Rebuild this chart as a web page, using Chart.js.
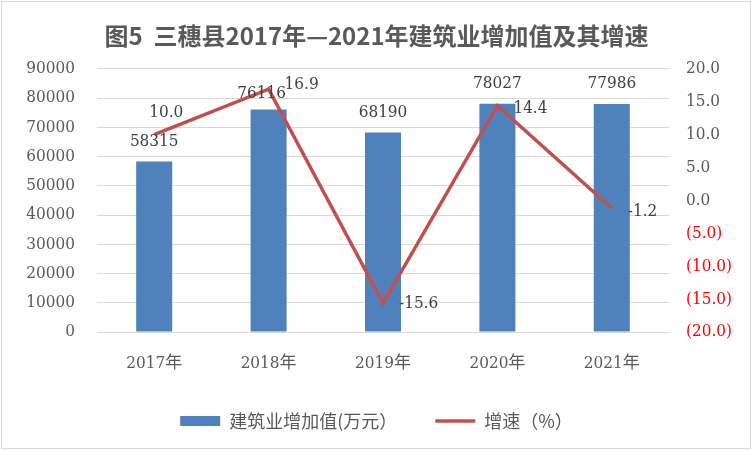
<!DOCTYPE html>
<html>
<head>
<meta charset="utf-8">
<script src="https://cdn.jsdelivr.net/npm/chart.js@4/dist/chart.umd.min.js"></script>
<style>
  html, body { margin: 0; padding: 0; background: #fff; }
  #wrap { width: 753px; height: 451px; }
</style>
</head>
<body>
<div id="wrap"><canvas id="myChart" width="753" height="451"></canvas></div>
<script>
// chart data
var years = ["2017年", "2018年", "2019年", "2020年", "2021年"];
var outputValues = [58315, 76116, 68190, 78027, 77986];   // 建筑业增加值(万元)
var growthRates = [10.0, 16.9, -15.6, 14.4, -1.2];         // 增速(%)
var leftTicks = [0, 10000, 20000, 30000, 40000, 50000, 60000, 70000, 80000, 90000];
var rightTicks = [-20, -15, -10, -5, 0, 5, 10, 15, 20];

var numFont = '"DejaVu Serif Condensed", "Noto Sans CJK SC"';
var cjkFont = '"Noto Sans CJK SC", "DejaVu Sans"';

// label placement (style only)
var barLabelNudge = [[0, 0], [-7, 4], [0, 0], [0, 0], [0, 0]];
var lineLabelSide = ["top", "right", "right", "right", "right"];
var lineLabelNudge = [[0, 0], [0, -5], [0, 1], [0, 3], [0, 3]];

var frame = {
  id: 'frame',
  beforeDraw: function(chart) {
    var c = chart.ctx;
    c.save();
    c.fillStyle = '#ffffff';
    c.fillRect(0, 0, chart.width, chart.height);
    c.strokeStyle = '#d9d9d9';
    c.lineWidth = 1;
    c.strokeRect(1.5, 1.5, chart.width - 4, chart.height - 4);
    c.restore();
  }
};

var valueLabels = {
  id: 'valueLabels',
  afterDatasetsDraw: function(chart) {
    var c = chart.ctx;
    c.save();
    c.font = '17px ' + numFont;
    c.fillStyle = '#404040';
    c.textBaseline = 'middle';

    c.textAlign = 'center';
    chart.getDatasetMeta(0).data.forEach(function(bar, i) {
      var n = barLabelNudge[i];
      c.fillText(String(outputValues[i]), bar.x + n[0], bar.y - 20 + n[1]);
    });

    chart.getDatasetMeta(1).data.forEach(function(p, i) {
      var txt = growthRates[i].toFixed(1);
      var n = lineLabelNudge[i];
      if (lineLabelSide[i] == "top") {
        c.textAlign = 'center';
        c.fillText(txt, p.x + 12 + n[0], p.y - 22 + n[1]);
      } else {
        c.textAlign = 'left';
        c.fillText(txt, p.x + 16 + n[0], p.y + n[1]);
      }
    });
    c.restore();
  }
};

function createChart() {
  var ctx = document.getElementById('myChart').getContext('2d');
  var chart = new Chart(ctx, {
    type: 'bar',
    data: {
      labels: years,
      datasets: [{
        type: 'bar',
        label: '建筑业增加值(万元）',
        data: outputValues,
        backgroundColor: '#4F81BD',
        borderWidth: 0,
        barPercentage: 0.9,
        categoryPercentage: 0.35,
        yAxisID: 'y',
        order: 1
      }, {
        type: 'line',
        label: '增速（%）',
        data: growthRates,
        borderColor: '#C0504D',
        backgroundColor: '#C0504D',
        borderWidth: 3.5,
        pointRadius: 0,
        tension: 0,
        yAxisID: 'y1',
        order: 0
      }]
    },
    options: {
      responsive: false,
      animation: false,
      devicePixelRatio: 1,
      layout: { padding: { left: 0, right: 0, top: 0, bottom: 17 } },
      scales: {
        x: {
          grid: { display: false, drawTicks: false },
          border: { display: false },
          ticks: { color: '#595959', font: { size: 17, family: numFont }, padding: 21 },
          afterFit: function(s) { s.height = 42; }
        },
        y: {
          position: 'left',
          min: 0, max: 90000,
          afterBuildTicks: function(s) { s.ticks = leftTicks.map(function(v) { return { value: v }; }); },
          grid: { color: '#d9d9d9', drawTicks: false, lineWidth: 1 },
          border: { display: false },
          ticks: {
            color: '#595959',
            font: { size: 17, family: numFont },
            padding: 22,
            callback: function(v) { return String(v); }
          },
          afterFit: function(s) { s.width = 97; }
        },
        y1: {
          position: 'right',
          min: -20, max: 20,
          afterBuildTicks: function(s) { s.ticks = rightTicks.map(function(v) { return { value: v }; }); },
          grid: { drawOnChartArea: false, drawTicks: false },
          border: { display: false },
          ticks: {
            font: { size: 17, family: numFont },
            padding: 17,
            color: function(c) { return c.tick.value < 0 ? '#FF0000' : '#595959'; },
            callback: function(v) {
              return v < 0 ? '(' + Math.abs(v).toFixed(1) + ')' : v.toFixed(1);
            }
          },
          afterFit: function(s) { s.width = 84; }
        }
      },
      plugins: {
        title: {
          display: true,
          text: '图5  三穗县2017年—2021年建筑业增加值及其增速',
          color: '#595959',
          font: { size: 24, weight: 'bold', family: cjkFont },
          padding: { top: 21, bottom: 19 }
        },
        legend: {
          position: 'bottom',
          maxHeight: 60,
          labels: {
            usePointStyle: true,
            pointStyleWidth: 40,
            boxHeight: 10,
            padding: 38,
            color: '#595959',
            font: { size: 18, family: cjkFont },
            generateLabels: function(chart) {
              var items = Chart.defaults.plugins.legend.labels.generateLabels(chart);
              items.forEach(function(it) {
                it.pointStyle = it.datasetIndex === 0 ? 'rect' : 'line';
              });
              return items.sort(function(a, b) { return a.datasetIndex - b.datasetIndex; });
            }
          }
        },
        tooltip: { enabled: false }
      }
    },
    plugins: [frame, valueLabels]
  });
}

createChart();
</script>
</body>
</html>
